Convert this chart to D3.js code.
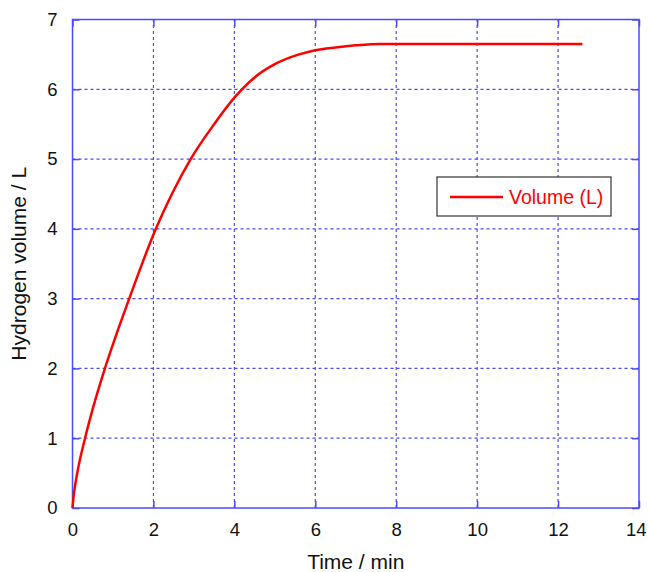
<!DOCTYPE html>
<html>
<head>
<meta charset="utf-8">
<script src="https://cdn.jsdelivr.net/npm/d3@7"></script>
<style>
  body { margin: 0; background: #fff; }
  text { font-family: "Liberation Sans", Arial, sans-serif; }
</style>
</head>
<body>
<div id="chart"></div>
<script>
// hydrogen volume (L) vs time (min)
const time = [0, 0.03, 0.08, 0.15, 0.31, 0.5, 0.79, 1.05, 1.39, 1.7, 2.06, 2.5, 2.92, 3.5, 4.0, 4.5, 5.0, 5.6, 6.0, 6.5, 7.0, 7.6, 10, 12.6];
const volume = [0, 0.18, 0.38, 0.6, 1.0, 1.42, 1.98, 2.43, 2.98, 3.47, 4.0, 4.55, 5.0, 5.5, 5.88, 6.17, 6.36, 6.5, 6.56, 6.6, 6.63, 6.65, 6.65, 6.65];
const xTicks = [0, 2, 4, 6, 8, 10, 12, 14];
const yTicks = [0, 1, 2, 3, 4, 5, 6, 7];
const seriesName = 'Volume (L)';

const width = 648;
const height = 572;
const margin = {top: 19.5, right: 9, bottom: 64, left: 72.5};
const blue = '#4a4aff';

const svg = d3.select('#chart')
    .append('svg')
        .attr('width', width)
        .attr('height', height);

const x = d3.scaleLinear()
    .domain([0, 14])
    .range([margin.left, width - margin.right]);
const y = d3.scaleLinear()
    .domain([0, 7])
    .range([height - margin.bottom, margin.top]);

// grid
svg.append('g')
    .selectAll('line')
    .data(xTicks.slice(1, -1))
    .join('line')
        .attr('x1', d => x(d)).attr('x2', d => x(d))
        .attr('y1', y(0)).attr('y2', y(7))
        .attr('stroke', blue)
        .attr('stroke-width', 1.2)
        .attr('stroke-dasharray', '3,3');
svg.append('g')
    .selectAll('line')
    .data(yTicks.slice(1, -1))
    .join('line')
        .attr('x1', x(0)).attr('x2', x(14))
        .attr('y1', d => y(d)).attr('y2', d => y(d))
        .attr('stroke', blue)
        .attr('stroke-width', 1.2)
        .attr('stroke-dasharray', '3,3');

// axes, ticks point inward
const styleAxis = g => g
    .call(g => g.select('.domain').remove())
    .call(g => g.selectAll('.tick line').attr('stroke', blue).attr('stroke-width', 1.5))
    .call(g => g.selectAll('.tick text')
        .attr('fill', '#111')
        .style('font-size', '18.5px'));

svg.append('g')
    .attr('transform', `translate(0,${y(0)})`)
    .call(d3.axisBottom(x).tickValues(xTicks).tickFormat(d3.format('d')).tickSize(-7).tickPadding(14.5))
    .call(styleAxis)
    // keep the last label inside the page
    .call(g => g.select('.tick:last-of-type text').attr('text-anchor', 'end').attr('dx', '7'));
svg.append('g')
    .attr('transform', `translate(0,${y(7)})`)
    .call(d3.axisTop(x).tickValues(xTicks).tickSize(-7).tickFormat(''))
    .call(styleAxis);
svg.append('g')
    .attr('transform', `translate(${x(0)},0)`)
    .call(d3.axisLeft(y).tickValues(yTicks).tickFormat(d3.format('d')).tickSize(-7).tickPadding(15))
    .call(styleAxis);
svg.append('g')
    .attr('transform', `translate(${x(14)},0)`)
    .call(d3.axisRight(y).tickValues(yTicks).tickSize(-7).tickFormat(''))
    .call(styleAxis);

// frame
svg.append('rect')
    .attr('x', x(0))
    .attr('y', y(7))
    .attr('width', x(14) - x(0))
    .attr('height', y(0) - y(7))
    .attr('fill', 'none')
    .attr('stroke', blue)
    .attr('stroke-width', 1.5);

// series
const line = d3.line()
    .curve(d3.curveMonotoneX)
    .x((d, i) => x(time[i]))
    .y(d => y(d));

svg.append('path')
    .datum(volume)
    .attr('fill', 'none')
    .attr('stroke', '#ff0000')
    .attr('stroke-width', 2.5)
    .attr('d', line);

// axis titles
svg.append('text')
    .attr('x', (x(0) + x(14)) / 2)
    .attr('y', 569)
    .attr('text-anchor', 'middle')
    .attr('fill', '#111')
    .style('font-size', '21px')
    .text('Time / min');
svg.append('text')
    .attr('transform', `translate(26,${(y(0) + y(7)) / 2}) rotate(-90)`)
    .attr('text-anchor', 'middle')
    .attr('fill', '#111')
    .style('font-size', '21px')
    .text('Hydrogen volume / L');

// legend
const legend = svg.append('g')
    .attr('transform', 'translate(437,177)');
legend.append('rect')
    .attr('width', 174)
    .attr('height', 39)
    .attr('fill', '#fff')
    .attr('stroke', '#333')
    .attr('stroke-width', 1.2);
legend.append('line')
    .attr('x1', 13).attr('x2', 66)
    .attr('y1', 20).attr('y2', 20)
    .attr('stroke', '#ff0000')
    .attr('stroke-width', 2.5);
legend.append('text')
    .attr('x', 72)
    .attr('y', 27)
    .attr('fill', '#ff0000')
    .style('font-size', '19.5px')
    .text(seriesName);
</script>
</body>
</html>
